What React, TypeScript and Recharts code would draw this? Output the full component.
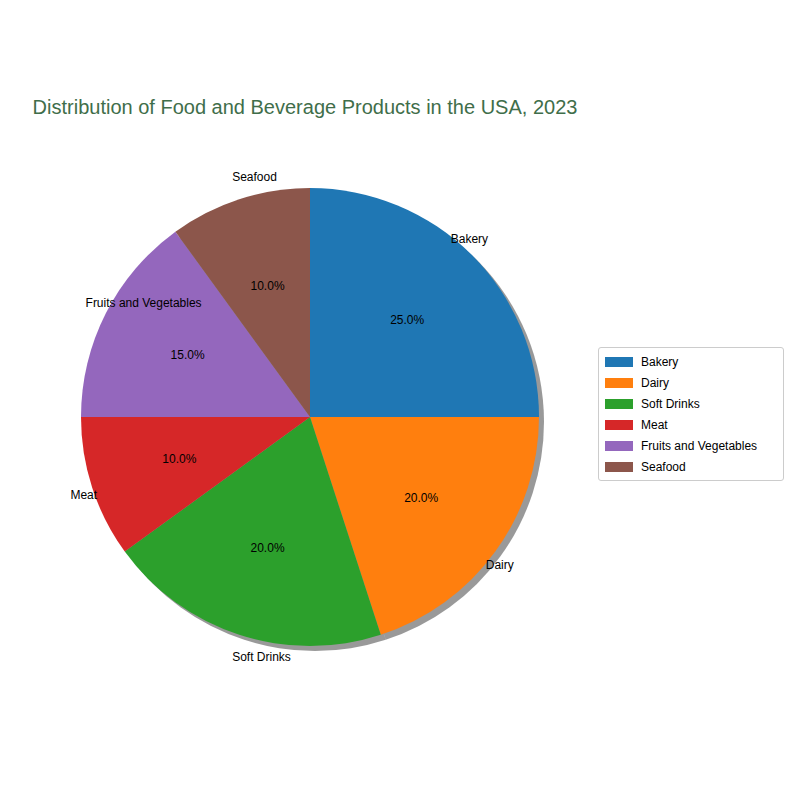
import { PieChart, Pie, Cell, Legend } from 'recharts';

const categories = ['Bakery', 'Dairy', 'Soft Drinks', 'Meat', 'Fruits and Vegetables', 'Seafood'];
const shares = [25, 20, 20, 10, 15, 10];
const colors = ['#1f77b4', '#ff7f0e', '#2ca02c', '#d62728', '#9467bd', '#8c564b'];

const data = categories.map((name, i) => ({ name, value: shares[i] }));
const RAD = Math.PI / 180;
const font = 'Arial, "Liberation Sans", sans-serif';

function renderLabel(p: any) {
  const { cx, cy, midAngle, outerRadius, name, percent } = p;
  const cos = Math.cos(-midAngle * RAD);
  const sin = Math.sin(-midAngle * RAD);
  const lx = cx + outerRadius * 1.1 * cos;
  const ly = cy + outerRadius * 1.1 * sin;
  const px = cx + outerRadius * 0.6 * cos;
  const py = cy + outerRadius * 0.6 * sin;
  return (
    <g>
      <text x={lx} y={ly} textAnchor={lx > cx ? 'end' : 'start'} dominantBaseline="central" fontSize={12} fill="#000" fontFamily={font}>
        {name}
      </text>
      <text x={px} y={py} textAnchor="middle" dominantBaseline="central" fontSize={12} fill="#000" fontFamily={font}>
        {(percent * 100).toFixed(1)}%
      </text>
    </g>
  );
}

function LegendBox() {
  return (
    <div style={{ border: '1px solid #ccc', borderRadius: 3, padding: '3px 6px', background: '#fff', fontFamily: font, fontSize: 12 }}>
      {categories.map((c, i) => (
        <div key={c} style={{ display: 'flex', alignItems: 'center', height: 21 }}>
          <span style={{ width: 28, height: 10, background: colors[i], marginRight: 8, display: 'inline-block' }} />
          {c}
        </div>
      ))}
    </div>
  );
}

export default function App() {
  return (
    <div style={{ position: 'absolute', left: 0, top: 0, width: 800, height: 800, background: '#fff' }}>
      <div style={{ position: 'absolute', top: 96, left: 0, width: 610, textAlign: 'center', fontFamily: font, fontSize: 20, color: '#3f6e4a' }}>
        Distribution of Food and Beverage Products in the USA, 2023
      </div>
      <PieChart width={800} height={800}>
        <Pie data={data} dataKey="value" cx={310} cy={417} outerRadius={229} startAngle={90} endAngle={-270} stroke="none" isAnimationActive={false}>
          {data.map((d) => (
            <Cell key={d.name} fill="#000" fillOpacity={0.4} />
          ))}
        </Pie>
        <Pie data={data} dataKey="value" cx={305} cy={412} outerRadius={229} startAngle={90} endAngle={-270} stroke="none" label={renderLabel} labelLine={false} isAnimationActive={false}>
          {data.map((d, i) => (
            <Cell key={d.name} fill={colors[i]} />
          ))}
        </Pie>
        <Legend content={<LegendBox />} wrapperStyle={{ position: 'absolute', left: 598, top: 347, width: 186 }} />
      </PieChart>
    </div>
  );
}
